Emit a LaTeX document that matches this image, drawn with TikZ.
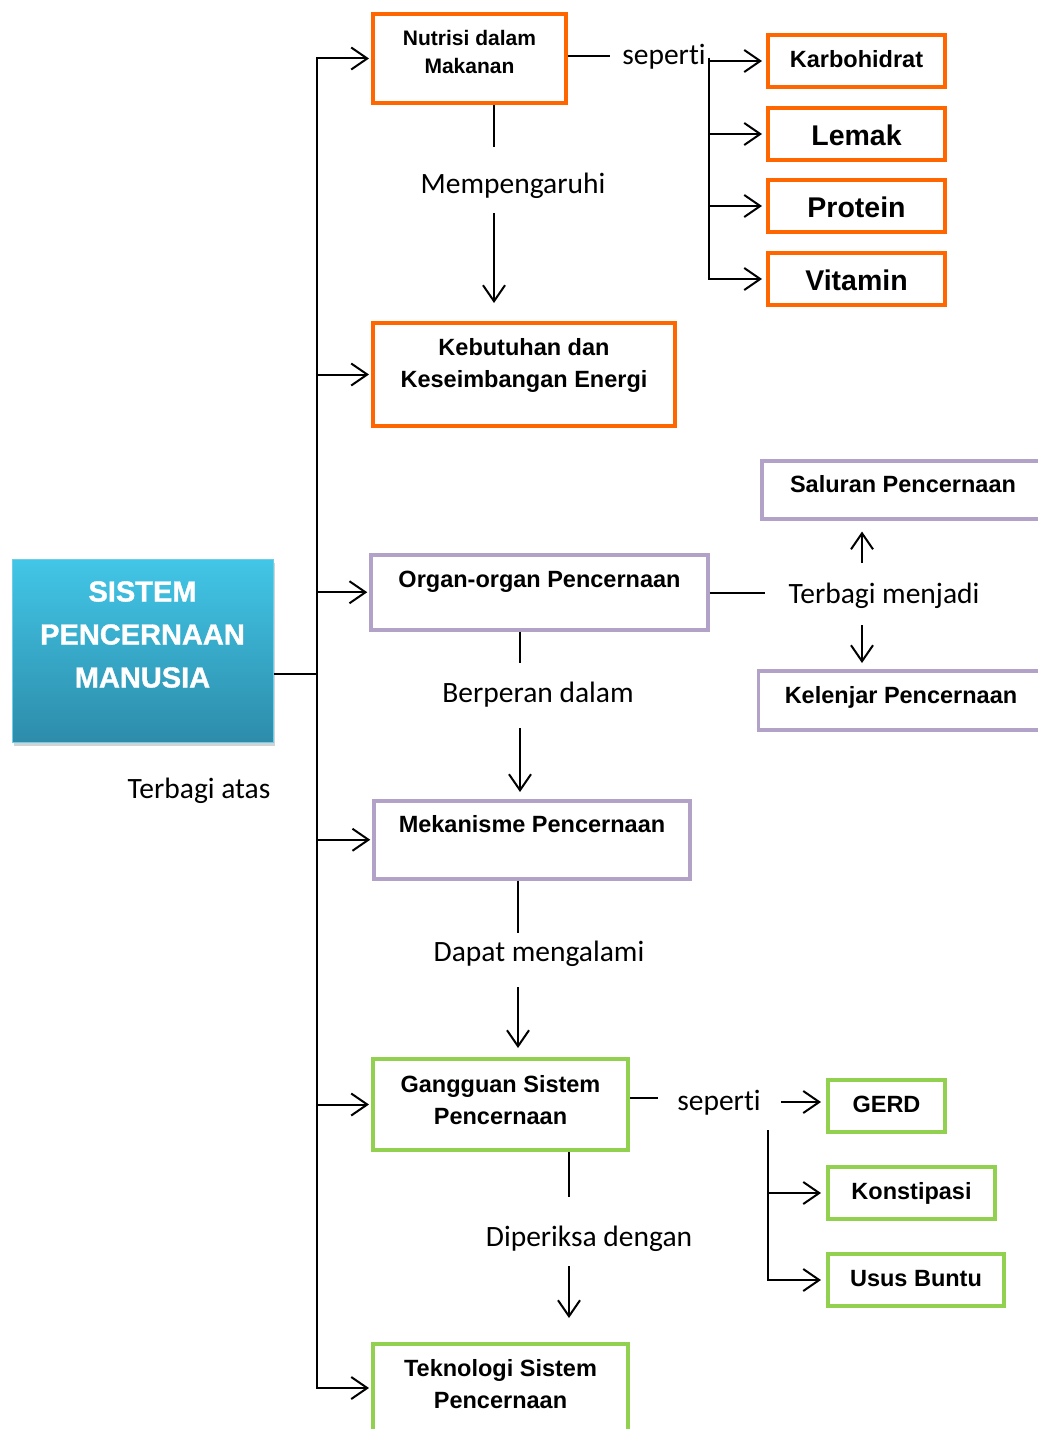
\documentclass[tikz,border=0pt]{standalone}
\usepackage{fontspec}
\setmainfont{Liberation Sans}
\newfontfamily\lblfont[Ligatures=NoCommon]{Carlito}
\newfontfamily\titlefont[BoldFeatures={FakeBold=1.2}]{Liberation Sans}
\usetikzlibrary{arrows.meta}
\usetikzlibrary{shadows}
\definecolor{orangeline}{RGB}{255,102,0}
\definecolor{purpleline}{RGB}{179,162,199}
\definecolor{greenline}{RGB}{146,208,80}
\definecolor{maintop}{RGB}{66,198,231}
\definecolor{mainbot}{RGB}{45,140,170}
\definecolor{mainedge}{RGB}{110,205,232}
\tikzset{
    boxo/.style = {rectangle, line width=4pt, draw=orangeline, align=center, anchor=north, inner sep=0pt, font=\bfseries\fontsize{23.5}{32}\selectfont, text=black},
    boxp/.style = {boxo, line width=3.5pt, draw=purpleline},
    boxg/.style = {boxo, draw=greenline},
    boxmain/.style = {rectangle, anchor=north, inner sep=0pt, align=center, top color=maintop, bottom color=mainbot, draw=mainedge, line width=1pt, drop shadow={shadow xshift=2pt, shadow yshift=-3pt, opacity=0.35}, font=\titlefont\bfseries\fontsize{29}{43}\selectfont, text=white},
    lbl/.style = {font=\lblfont\fontsize{29.5}{34}\selectfont, inner sep=0pt, anchor=base},
    edgen/.style = {-, line width=2pt, black},
    edgea/.style = {edgen, -{Straight Barb[length=16pt,width=22pt]}},
}
\begin{document}
\begin{tikzpicture}[x=1pt,y=-1pt]
\clip[use as bounding box] (0,0) rectangle (1038,1429);

% main box
\node[boxmain, minimum width=261pt, text height=128pt, text depth=55pt] at (142.5,559) (main) {SISTEM\\PENCERNAAN\\MANUSIA};
\node[lbl] at (199,798) (atas) {Terbagi atas};
%
\node[boxo, minimum width=193pt, text height=59.5pt, text depth=29.5pt, font=\bfseries\fontsize{21}{28}\selectfont] at (469.5,12) (nutri) {Nutrisi dalam\\Makanan};
\node[boxo, minimum width=302pt, text height=64pt, text depth=39pt] at (524,321) (kebut) {Kebutuhan dan\\Keseimbangan Energi};
\node[boxp, minimum width=337pt, text height=33pt, text depth=42pt] at (539.5,553) (organ) {Organ-organ Pencernaan};
\node[boxp, minimum width=316pt, text height=32pt, text depth=46pt] at (532,799) (mekan) {Mekanisme Pencernaan};
\node[boxg, minimum width=255pt, text height=65pt, text depth=26pt] at (500.5,1057) (gangg) {Gangguan Sistem\\Pencernaan};
\node[boxg, minimum width=255pt, text height=64pt, text depth=24pt] at (500.5,1342) (tekno) {Teknologi Sistem\\Pencernaan};
%
\node[boxo, minimum width=177pt, text height=32pt, text depth=20pt] at (856.5,33) (karbo) {Karbohidrat};
\node[boxo, minimum width=177pt, text height=37pt, text depth=15pt, font=\bfseries\fontsize{28.5}{32}\selectfont] at (856.5,106) (lemak) {Lemak};
\node[boxo, minimum width=177pt, text height=37pt, text depth=15pt, font=\bfseries\fontsize{28.5}{32}\selectfont] at (856.5,178) (protein) {Protein};
\node[boxo, minimum width=177pt, text height=37pt, text depth=15pt, font=\bfseries\fontsize{28.5}{32}\selectfont] at (856.5,251) (vitamin) {Vitamin};
%
\node[boxp, minimum width=282pt, text height=32pt, text depth=26pt] at (903,459) (saluran) {Saluran Pencernaan};
\node[boxp, minimum width=285pt, text height=33pt, text depth=26pt] at (901,669) (kelenjar) {Kelenjar Pencernaan};
%
\node[boxg, minimum width=117pt, text height=32pt, text depth=20pt] at (886.5,1078) (gerd) {GERD};
\node[boxg, minimum width=167pt, text height=32pt, text depth=20pt] at (911.5,1165) (konst) {Konstipasi};
\node[boxg, minimum width=176pt, text height=32pt, text depth=20pt] at (916,1252) (usus) {Usus Buntu};
%
\node[lbl] at (664,65) (seperti1) {seperti};
\node[lbl] at (513,193) (mempeng) {Mempengaruhi};
\node[lbl] at (884,603) (menjadi) {Terbagi menjadi};
\node[lbl] at (538,702) (berperan) {Berperan dalam};
\node[lbl] at (539,961) (mengalami) {Dapat mengalami};
\node[lbl] at (719,1110) (seperti2) {seperti};
\node[lbl] at (589,1246) (diperiksa) {Diperiksa dengan};
%
\coordinate (trunk) at (317,674);
\coordinate (sp1a) at (610,56);
\coordinate (sp1b) at (709,58);
\coordinate (m1a) at (494,147);
\coordinate (m1b) at (494,213);
\coordinate (tm) at (765,593);
\coordinate (tu) at (862,563);
\coordinate (td) at (862,625);
\coordinate (b1a) at (520,663);
\coordinate (b1b) at (520,728);
\coordinate (d1a) at (518,933);
\coordinate (d1b) at (518,987);
\coordinate (sp2a) at (658,1098);
\coordinate (sp2b) at (781,1102);
\coordinate (sp2c) at (768,1130);
\coordinate (p1a) at (569,1197);
\coordinate (p1b) at (569,1266);
%
\draw[edgen] (main.east |- trunk) -- (trunk);
\foreach \n in {nutri,kebut,organ,mekan,gangg,tekno}
  \draw[edgea,shorten >=2pt] (trunk) |- (\n.west);
%
\draw[edgen] (nutri.east |- sp1a) -- (sp1a);
\foreach \n in {karbo,lemak,protein,vitamin}
  \draw[edgea,shorten >=4pt] (sp1b) |- (\n.west);
\draw[edgen] (nutri.south -| m1a) -- (m1a);
\draw[edgea,shorten >=18pt] (m1b) -- (kebut.north -| m1b);
%
\draw[edgen] (organ.east |- tm) -- (tm);
\draw[edgea,shorten >=11pt] (tu) -- (saluran.south -| tu);
\draw[edgea,shorten >=6pt] (td) -- (kelenjar.north -| td);
\draw[edgen] (organ.south -| b1a) -- (b1a);
\draw[edgea,shorten >=7pt] (b1b) -- (mekan.north -| b1b);
%
\draw[edgen] (mekan.south -| d1a) -- (d1a);
\draw[edgea,shorten >=9pt] (d1b) -- (gangg.north -| d1b);
%
\draw[edgen] (gangg.east |- sp2a) -- (sp2a);
\draw[edgea,shorten >=5pt] (sp2b) -- (gerd.west |- sp2b);
\draw[edgea,shorten >=5pt] (sp2c) |- (konst.west);
\draw[edgea,shorten >=5pt] (sp2c) |- (usus.west);
\draw[edgen] (gangg.south -| p1a) -- (p1a);
\draw[edgea,shorten >=24pt] (p1b) -- (tekno.north -| p1b);

\end{tikzpicture}
\end{document}
